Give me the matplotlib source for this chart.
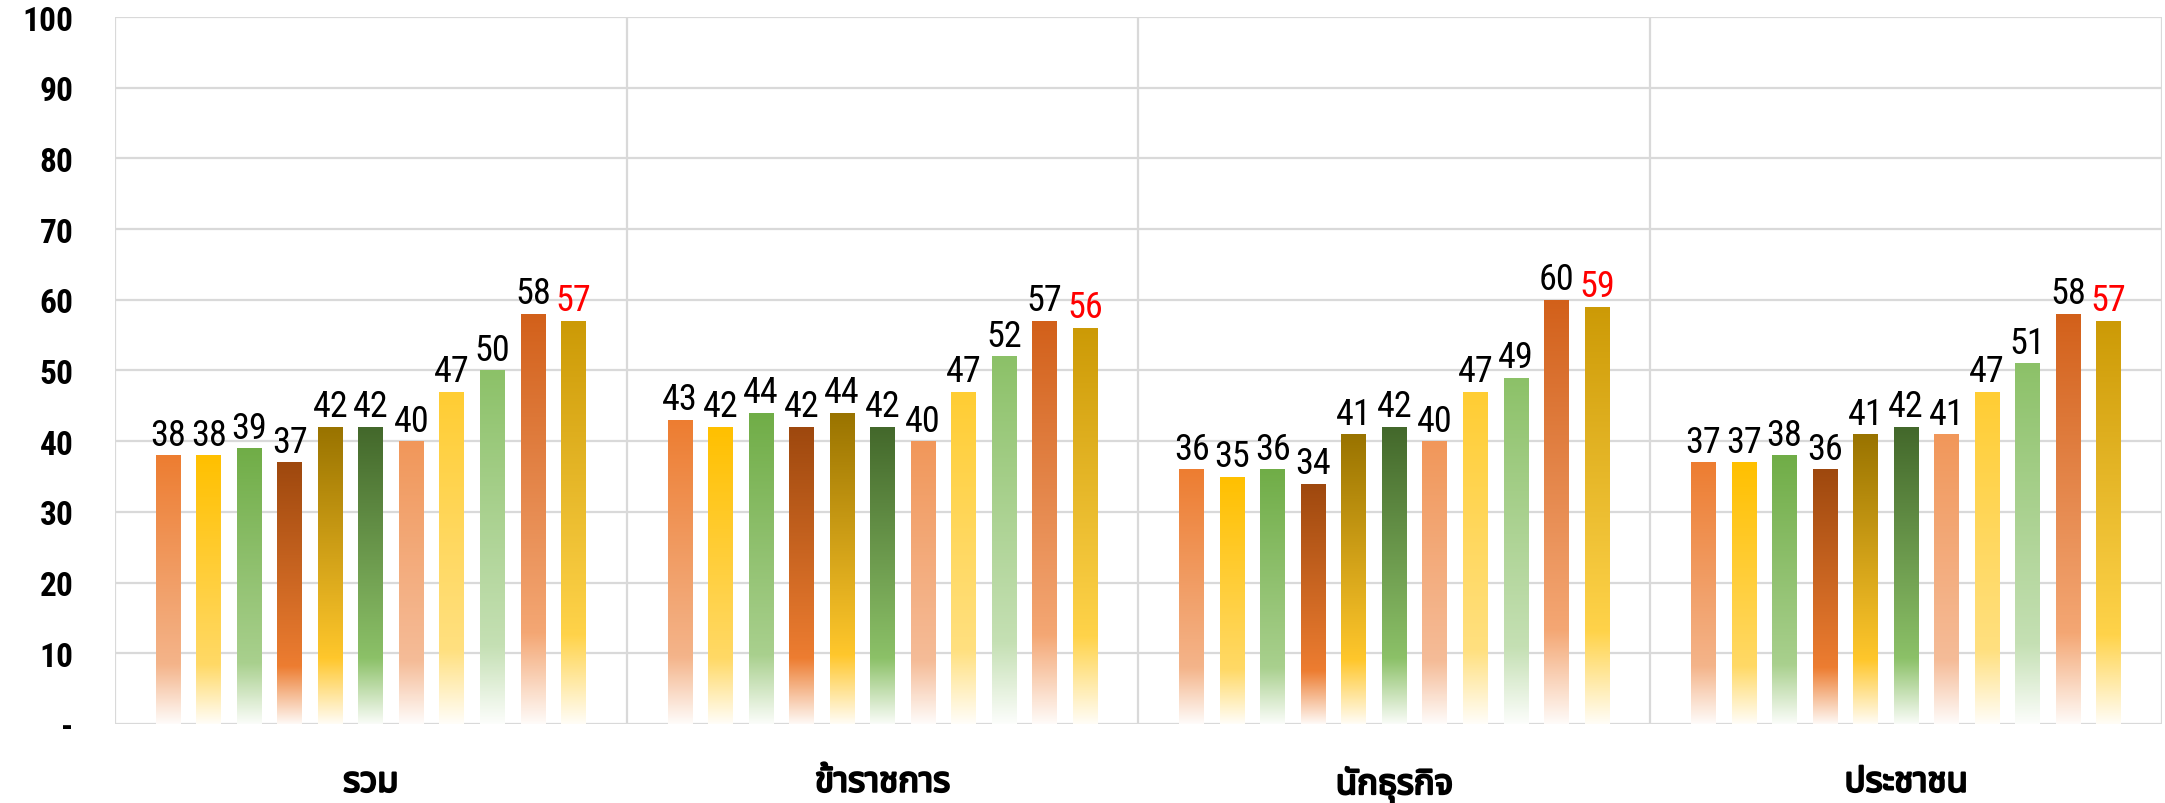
import matplotlib
matplotlib.use('Agg')
import matplotlib.pyplot as plt
import matplotlib.patheffects as pe
import numpy as np
from matplotlib import font_manager as fm
from matplotlib.ft2font import FT2Font
from matplotlib.colors import LinearSegmentedColormap, to_rgb

# data
groups = ['รวม', 'ข้าราชการ', 'นักธุรกิจ', 'ประชาชน']
values = [
    [38, 43, 36, 37],
    [38, 42, 35, 37],
    [39, 44, 36, 38],
    [37, 42, 34, 36],
    [42, 44, 41, 41],
    [42, 42, 42, 42],
    [40, 40, 40, 41],
    [47, 47, 47, 47],
    [50, 52, 49, 51],
    [58, 57, 60, 58],
    [57, 56, 59, 57],
]
top_colors = ['#ED7D31', '#FFC000', '#70AD47', '#9E480E', '#997300', '#43682B',
              '#F1975A', '#FFCD33', '#8CC168', '#D2601A', '#CC9A06']
mid_colors = ['#F4B48A', '#FFD966', '#A9D08E', '#ED7D31', '#FFC72C', '#8CC168',
              '#F5BC98', '#FFE080', '#C5E0B4', '#F4A774', '#FFD34A']
yticks = [0, 10, 20, 30, 40, 50, 60, 70, 80, 90, 100]
ytick_labels = ['-', '10', '20', '30', '40', '50', '60', '70', '80', '90', '100']


def find_font(chars, prefer=()):
    names = {f.name for f in fm.fontManager.ttflist}
    for p in prefer:
        if p in names:
            return p
    for f in sorted(fm.fontManager.ttflist, key=lambda f: ('Sans' not in f.name, f.name)):
        try:
            cmap = FT2Font(f.fname).get_charmap()
        except Exception:
            continue
        if all(ord(c) in cmap for c in chars):
            return f.name
    return 'DejaVu Sans'


thai_font = find_font('รวมข้ากร', prefer=('Noto Sans Thai', 'Noto Sans Thai Looped', 'Loma', 'Garuda'))
names = {f.name for f in fm.fontManager.ttflist}
num_font = 'DejaVu Sans'
for n in ['Liberation Sans Narrow', 'DejaVu Sans Condensed', 'Roboto Condensed', 'Open Sans Condensed']:
    if n in names:
        num_font = n
        break

fig = plt.figure(figsize=(21.65, 8.04), dpi=100)
ax = fig.add_axes([0.0531, 0.0983, 0.9455, 0.8793])

n = len(values)
slot = 0.0792
width = 0.0485
x = np.arange(len(groups))
grad = np.linspace(0, 1, 256).reshape(-1, 1)

for j in range(n):
    xs = x + (j - (n - 1) / 2) * slot
    c_top = np.array(to_rgb(top_colors[j]))
    c_mid = np.array(to_rgb(mid_colors[j]))
    c_bot = c_mid + (1 - c_mid) * 0.95
    cmap = LinearSegmentedColormap.from_list('g%d' % j, [(0, c_bot), (0.22, c_mid), (1, c_top)])
    bars = ax.bar(xs, values[j], width, color='none', edgecolor='none', zorder=3)
    for b, v in zip(bars, values[j]):
        im = ax.imshow(grad, extent=[b.get_x(), b.get_x() + b.get_width(), 0, v],
                       origin='lower', aspect='auto', cmap=cmap, zorder=3)
        im.set_clip_path(b)
        col = 'red' if j == n - 1 else 'black'
        ax.text(b.get_x() + b.get_width() / 2, v + 1.5, str(v), ha='center', va='baseline',
                fontsize=26, family=num_font, color=col, zorder=4)

ax.set_xlim(-0.5, len(groups) - 0.5)
ax.set_ylim(0, 100)
ax.set_yticks(yticks)
ax.set_yticklabels(ytick_labels, fontsize=24, fontweight='bold', family=num_font)
ax.set_xticks(x)
ax.set_xticklabels(groups, fontsize=25, fontweight='bold', family=[thai_font, 'DejaVu Sans'])
for t in ax.get_xticklabels():
    t.set_path_effects([pe.withStroke(linewidth=1.6, foreground='black')])
ax.set_xticks(np.arange(len(groups) + 1) - 0.5, minor=True)
ax.tick_params(axis='both', which='both', length=0)
ax.tick_params(axis='y', pad=30)
ax.tick_params(axis='x', pad=30)
ax.grid(axis='y', color='#D9D9D9', linewidth=1.6, zorder=0)
ax.grid(axis='x', which='minor', color='#D9D9D9', linewidth=1.6, zorder=0)
ax.grid(axis='x', which='major', visible=False)
for s in ax.spines.values():
    s.set_visible(False)
ax.set_axisbelow(True)

fig.savefig('out.png', dpi=100)
